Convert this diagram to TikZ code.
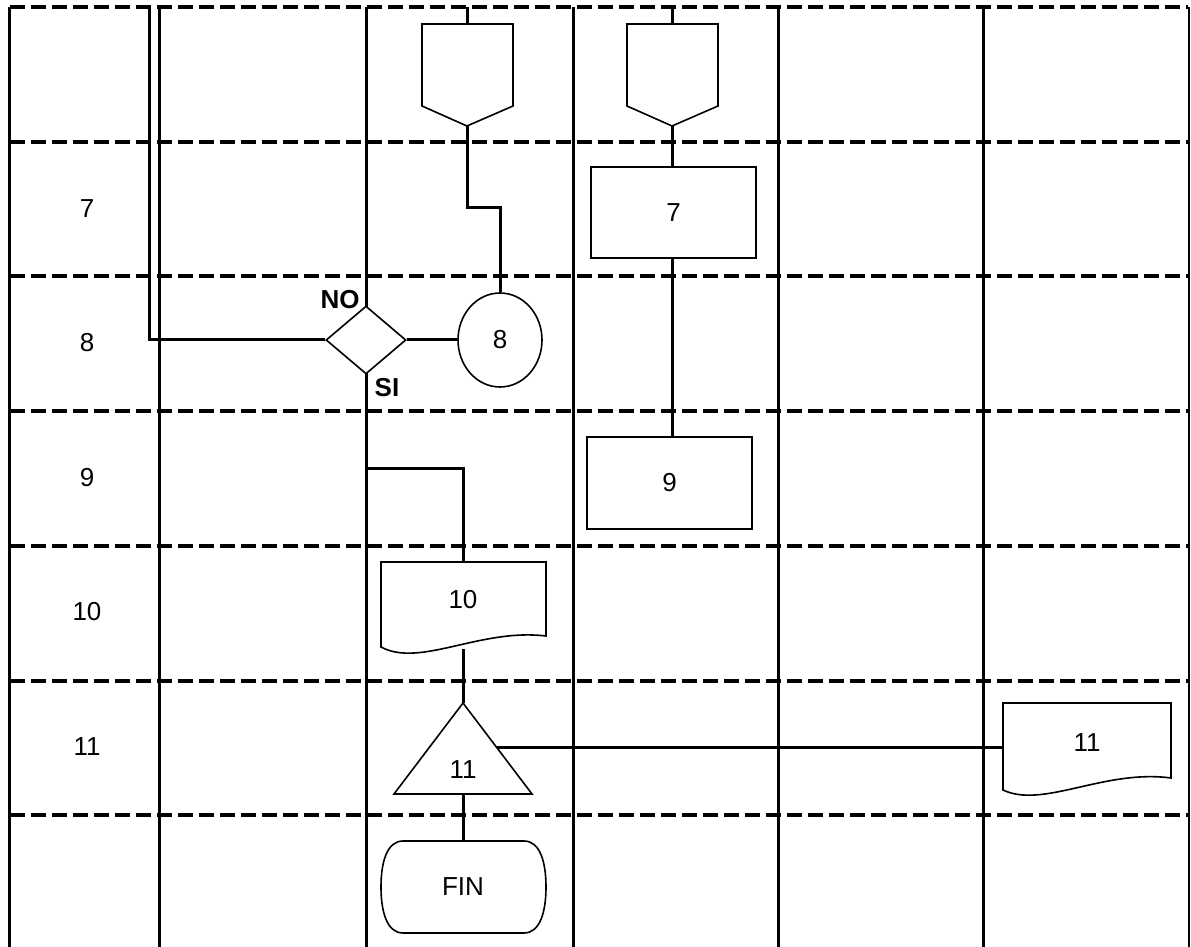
\documentclass[tikz,border=0pt]{standalone}
\usepackage{fontspec}
\setmainfont{Liberation Sans}
\usetikzlibrary{shapes.geometric,backgrounds}
\begin{document}
\begin{tikzpicture}[x=0.5pt,y=-0.5pt,
  gridline/.style={line width=1.5pt},
  rowsep/.style={line width=2pt, dash pattern=on 7.5pt off 3pt},
  conn/.style={line width=1.5pt},
  shp/.style={draw, line width=0.8pt, fill=white},
  lbl/.style={font=\fontsize{13}{15}\selectfont, inner sep=0pt},
  blbl/.style={font=\fontsize{13}{15}\selectfont\bfseries, inner sep=0pt},
  procbox/.style={shp, rectangle, inner sep=0pt, minimum width=82.5pt, minimum height=45.5pt, font=\fontsize{13}{15}\selectfont},
]
\useasboundingbox (0,0) rectangle (1191,947);

% ---- shapes (main layer) ----
% off-page connectors
\draw[shp] (422,24) -- (513,24) -- (513,106) -- (467,126) -- (422,106) -- cycle;
\coordinate (h1in) at (467,7);
\coordinate (h1top) at (467,24);
\coordinate (h1bot) at (467,126);
\draw[shp] (627,24) -- (718,24) -- (718,106) -- (672,126) -- (627,106) -- cycle;
\coordinate (h2in) at (672,7);
\coordinate (h2top) at (672,24);
\coordinate (h2bot) at (672,126);

\node[procbox] (b7) at (673.5,212.5) {7};
\node[procbox, minimum height=46pt] (b9) at (669.5,483) {9};

\node[shp, ellipse, inner sep=0pt, minimum width=42pt, minimum height=47pt,
      font=\fontsize{13}{15}\selectfont] (c8) at (500,340) {8};

\node[shp, diamond, inner sep=0pt, minimum width=40pt, minimum height=34pt] (d) at (366,340) {};
\node[blbl] (no) at (340,300) {NO};
\node[blbl] (si) at (387,388) {SI};

% document 10
\draw[shp] (381,562) -- (546,562) -- (546,636) .. controls (480,628) and (420,668) .. (381,647) -- cycle;
\coordinate (d10top) at (463,562);
\coordinate (d10bot) at (463,649);
\node[lbl] (t10) at (463,600) {10};

% merge triangle 11
\draw[shp] (463,703) -- (532,794) -- (394,794) -- cycle;
\coordinate (triapex) at (463,703);
\coordinate (tribot) at (463,794);
\coordinate (triright) at (496,747);
\node[lbl] (t11) at (463,770) {11};

% document 11
\draw[shp] (1003,703) -- (1171,703) -- (1171,778) .. controls (1104,769) and (1043,809) .. (1003,790) -- cycle;
\coordinate (d11left) at (1003,747);
\node[lbl] (t11b) at (1087,743) {11};

% terminal
\draw[shp] (403,841) -- (524,841) .. controls (540,841) and (546,862) .. (546,887)
  .. controls (546,912) and (540,933) .. (524,933) -- (403,933)
  .. controls (387,933) and (381,912) .. (381,887)
  .. controls (381,862) and (387,841) .. (403,841) -- cycle;
\node[lbl, minimum width=82.5pt, minimum height=46pt] (fin) at (463,887) {FIN};

% row labels
\node[lbl] (r7) at (87,209) {7};
\node[lbl] (r8) at (87,343) {8};
\node[lbl] (r9) at (87,478) {9};
\node[lbl] (r10) at (87,612) {10};
\node[lbl] (r11) at (87,747) {11};

% ---- grid and connectors (background) ----
\begin{scope}[on background layer]
  \fill[white] (0,0) rectangle (1191,947);
  \foreach \yy in {7,142,276,411,546,681,815}
    \draw[rowsep] (10,\yy) -- (1188,\yy);
  \foreach \xx in {9,159,366,573,778,983}
    \draw[gridline] (\xx,7) -- (\xx,947);
  \draw[line width=0.6pt] (1189,7) -- (1189,947);

  % NO loop
  \coordinate (noloop) at (149,340);
  \coordinate (notop) at (149,7);
  \draw[conn] (d.west) -- (noloop) -- (notop);

  % off-page 1 to circle 8
  \coordinate (j1) at (467,208);
  \coordinate (j2) at (500,208);
  \draw[conn] (h1in) -- (h1top);
  \draw[conn] (h1bot) -- (j1) -- (j2) -- (c8.north);
  \draw[conn] (d.east) -- (c8.west);

  % SI branch to document 10
  \coordinate (s1) at (366,468);
  \coordinate (s2) at (463,468);
  \draw[conn] (d.south) -- (s1) -- (s2) -- (d10top);

  % off-page 2 to 7 to 9
  \draw[conn] (h2in) -- (h2top);
  \draw[conn] (h2bot) -- (h2bot |- b7.north);
  \draw[conn] (h2bot |- b7.south) -- (h2bot |- b9.north);

  % 10 -> triangle -> FIN
  \draw[conn] (d10bot) -- (triapex);
  \draw[conn] (tribot) -- (fin.north);
  \draw[conn] (triright) -- (d11left);
\end{scope}
\end{tikzpicture}
\end{document}
